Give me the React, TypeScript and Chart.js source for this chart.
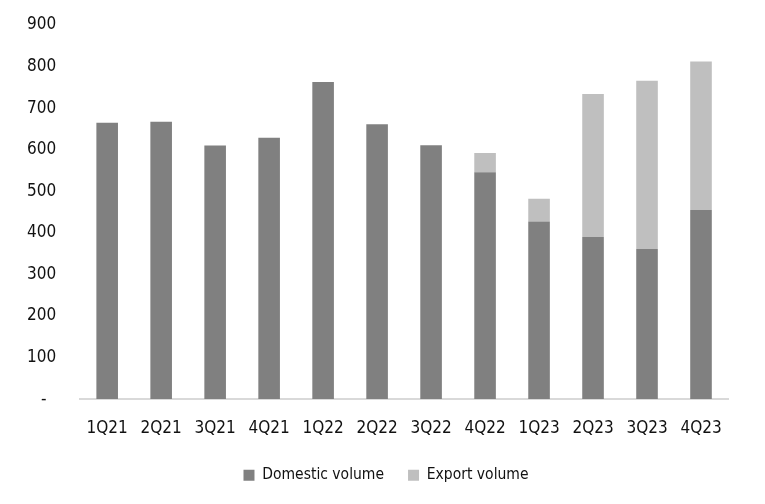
import React, { useEffect, useRef } from "react";
import { Chart, registerables } from "chart.js";

Chart.register(...registerables);

const categories = ["1Q21", "2Q21", "3Q21", "4Q21", "1Q22", "2Q22", "3Q22", "4Q22", "1Q23", "2Q23", "3Q23", "4Q23"];
const domesticVolume = [665, 667, 610, 629, 763, 661, 611, 546, 427, 390, 361, 455];
const exportVolume = [0, 0, 0, 0, 0, 0, 0, 46, 55, 344, 405, 357];
const yTicks = [0, 100, 200, 300, 400, 500, 600, 700, 800, 900];

const FONT = "'DejaVu Sans Condensed', 'Liberation Sans', sans-serif";

const legendShift = {
  id: "legendShift",
  afterLayout(chart: any) {
    const lg = chart.legend;
    if (!lg) return;
    const dx = 10;
    const dy = -14;
    lg.left += dx;
    lg.right += dx;
    lg.top += dy;
    lg.bottom += dy;
  },
};

export default function App() {
  const ref = useRef<HTMLCanvasElement>(null);
  useEffect(() => {
    if (!ref.current) return;
    const chart = new Chart(ref.current, {
      type: "bar",
      data: {
        labels: categories,
        datasets: [
          {
            label: "Domestic volume",
            data: domesticVolume,
            backgroundColor: "#808080",
            borderWidth: 0,
            categoryPercentage: 1,
            barPercentage: 0.4,
          },
          {
            label: "Export volume",
            data: exportVolume,
            backgroundColor: "#bfbfbf",
            borderWidth: 0,
            categoryPercentage: 1,
            barPercentage: 0.4,
          },
        ],
      },
      plugins: [legendShift],
      options: {
        animation: false,
        responsive: false,
        maintainAspectRatio: false,
        layout: { padding: { top: 25, left: 24, right: 37, bottom: -3 } },
        plugins: {
          tooltip: { enabled: false },
          legend: {
            position: "bottom",
            maxHeight: 55,
            labels: {
              color: "#111",
              font: { family: FONT, size: 15.5 },
              boxWidth: 11,
              boxHeight: 11,
              padding: 24,
            },
          },
        },
        scales: {
          x: {
            stacked: true,
            grid: { display: false, drawTicks: false },
            border: { display: true, color: "#d9d9d9", width: 2 },
            ticks: { color: "#111", font: { family: FONT, size: 17 }, padding: 19, maxRotation: 0 },
          },
          y: {
            stacked: true,
            min: 0,
            max: 900,
            afterBuildTicks: (axis: any) => {
              axis.ticks = yTicks.map((v) => ({ value: v }));
            },
            grid: { display: false, drawTicks: true, tickLength: 21 },
            border: { display: false },
            ticks: {
              color: "#111",
              font: { family: FONT, size: 17 },
              padding: 3,
              callback: (v: any) => (Number(v) === 0 ? "-  " : String(v)),
            },
          },
        },
      },
    });
    return () => chart.destroy();
  }, []);
  return (
    <div style={{ position: "absolute", left: 0, top: 0, width: 765, height: 504, background: "#fff" }}>
      <canvas ref={ref} width={765} height={504} style={{ width: 765, height: 504 }} />
    </div>
  );
}
